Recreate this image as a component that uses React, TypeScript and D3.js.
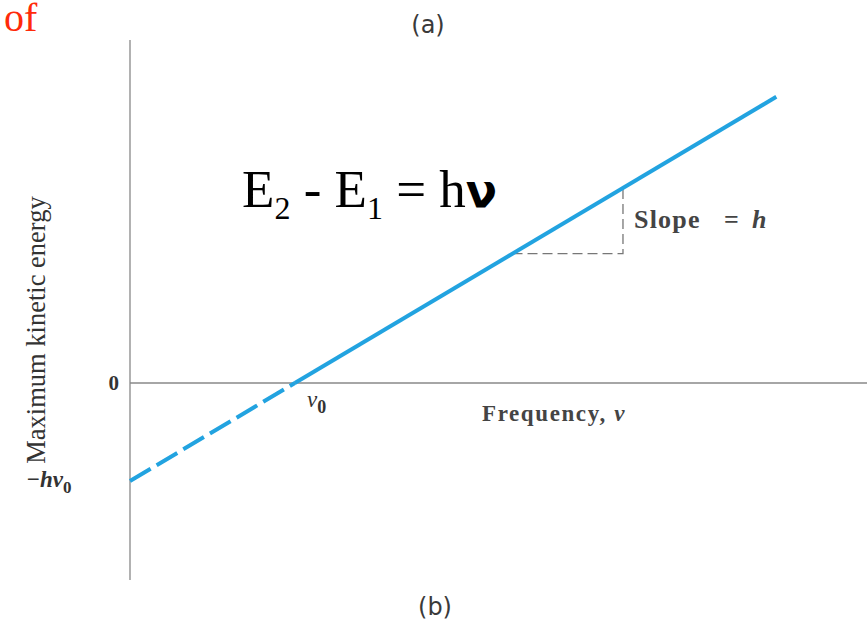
import React from "react";
import * as d3 from "d3";

// Photoelectric effect: max kinetic energy vs frequency (h = 1, ν0 = 1 units)
const nu0 = 1;
const freqDomain = [0, 4.47];
const energyDomain = [-2.01, 3.5];
const extrapolated = [0, 1]; // dashed part below threshold
const measured = [1, 3.92]; // solid part above threshold
const slopeRun = [2.32, 2.99]; // slope triangle
const kinetic = (nu: number) => nu - nu0;

const W = 867;
const H = 631;

export default function App() {
  const x = d3.scaleLinear().domain(freqDomain).range([130, 867]);
  const y = d3.scaleLinear().domain(energyDomain).range([580, 40]);
  const line = d3
    .line<number>()
    .x((d) => x(d))
    .y((d) => y(kinetic(d)));

  const blue = "#22a3e0";
  const serif = "'Liberation Serif', 'DejaVu Serif', serif";
  const sans = "'DejaVu Sans', sans-serif";

  return (
    <svg
      width={W}
      height={H}
      style={{ position: "absolute", left: 0, top: 0, background: "#fff" }}
    >
      {/* axes */}
      <line x1={x(0)} x2={x(0)} y1={y(energyDomain[1])} y2={y(energyDomain[0])} stroke="#888" strokeWidth={1.3} />
      <line x1={x(0)} x2={x(freqDomain[1])} y1={y(0)} y2={y(0)} stroke="#888" strokeWidth={1.3} />

      {/* slope triangle */}
      <path
        d={`M${x(slopeRun[0])},${y(kinetic(slopeRun[0]))}H${x(slopeRun[1])}V${y(kinetic(slopeRun[1]))}`}
        fill="none"
        stroke="#777"
        strokeWidth={1.3}
        strokeDasharray="10,5"
      />

      {/* energy line */}
      <path d={line(extrapolated) ?? ""} fill="none" stroke={blue} strokeWidth={4} strokeDasharray="24,7" />
      <path d={line(measured) ?? ""} fill="none" stroke={blue} strokeWidth={4} />

      {/* labels */}
      <text x={4} y={31} fontFamily={serif} fontSize={40} fill="#ff2a0a">of</text>
      <text x={428} y={33} fontFamily={sans} fontSize={24} fill="#3a3a3a" textAnchor="middle">(a)</text>
      <text x={435} y={615} fontFamily={sans} fontSize={24} fill="#3a3a3a" textAnchor="middle">(b)</text>

      <text x={242} y={207} fontFamily={serif} fontSize={53} fill="#000">
        E<tspan fontSize={32} dy={12}>2</tspan>
        <tspan dy={-12}> - E</tspan>
        <tspan fontSize={32} dy={12}>1</tspan>
        <tspan dy={-12}> = h</tspan>
        <tspan fontFamily={sans} fontWeight="bold" fontSize={46}>ν</tspan>
      </text>

      <text x={119} y={y(0) + 7} fontFamily={serif} fontSize={21} fontWeight="bold" fill="#333" textAnchor="end">0</text>
      <text x={26} y={y(-1) + 6} fontFamily={serif} fontSize={23} fontStyle="italic" fontWeight="bold" fill="#333">
        −hν<tspan fontSize={17} fontStyle="normal" dy={6}>0</tspan>
      </text>
      <text x={307} y={y(0) + 24} fontFamily={serif} fontSize={23} fontStyle="italic" fill="#333">
        ν<tspan fontSize={18} fontStyle="normal" fontWeight="bold" dy={6}>0</tspan>
      </text>
      <text x={482} y={y(0) + 38} fontFamily={serif} fontSize={23} fontWeight="bold" fill="#444" letterSpacing={1.6}>
        Frequency, <tspan fontStyle="italic">ν</tspan>
      </text>
      <text x={634} y={228} fontFamily={serif} fontSize={26} fontWeight="bold" fill="#444" letterSpacing={1.2}>
        Slope
      </text>
      <text x={724} y={228} fontFamily={serif} fontSize={26} fontWeight="bold" fill="#444">=</text>
      <text x={752} y={228} fontFamily={serif} fontSize={26} fontWeight="bold" fontStyle="italic" fill="#444">h</text>
      <text
        transform={`translate(45,330) rotate(-90)`}
        fontFamily={serif}
        fontSize={26.5}
        fill="#333"
        textAnchor="middle"
      >
        Maximum kinetic energy
      </text>
    </svg>
  );
}
